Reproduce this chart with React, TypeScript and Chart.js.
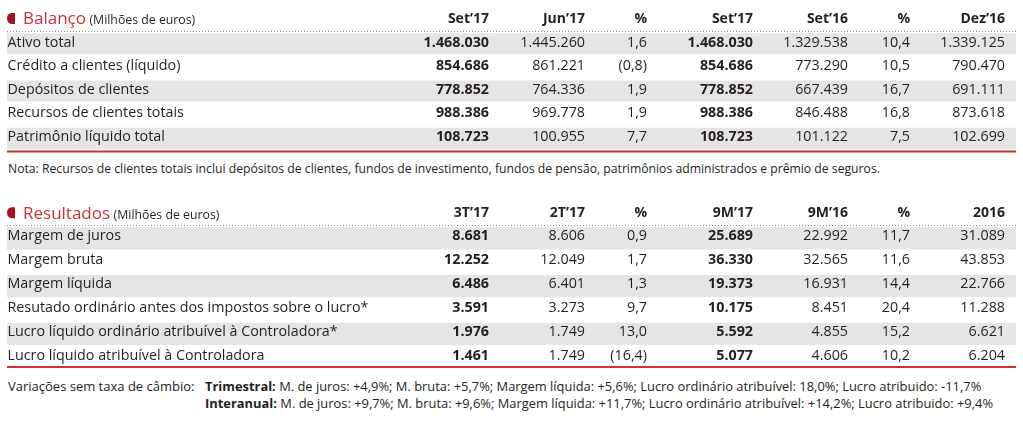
import React, { useEffect, useRef } from 'react';
import { Chart, registerables } from 'chart.js';

Chart.register(...registerables);

// ---------- DATA ----------
const balancoRows = [
  'Ativo total',
  'Crédito a clientes (líquido)',
  'Depósitos de clientes',
  'Recursos de clientes totais',
  'Patrimônio líquido total',
];
const balancoHeaders = ['Set’17', 'Jun’17', '%', 'Set’17', 'Set’16', '%', 'Dez’16'];
const balSet17 = [1468030, 854686, 778852, 988386, 108723];
const balJun17 = [1445260, 861221, 764336, 969778, 100955];
const balPctTri = [1.6, -0.8, 1.9, 1.9, 7.7];
const balSet16 = [1329538, 773290, 667439, 846488, 101122];
const balPctAno = [10.4, 10.5, 16.7, 16.8, 7.5];
const balDez16 = [1339125, 790470, 691111, 873618, 102699];

const resultadosRows = [
  'Margem de juros',
  'Margem bruta',
  'Margem líquida',
  'Resutado ordinário antes dos impostos sobre o lucro*',
  'Lucro líquido ordinário atribuível à Controladora*',
  'Lucro líquido atribuível à Controladora',
];
const resultadosHeaders = ['3T’17', '2T’17', '%', '9M’17', '9M’16', '%', '2016'];
const res3T17 = [8681, 12252, 6486, 3591, 1976, 1461];
const res2T17 = [8606, 12049, 6401, 3273, 1749, 1749];
const resPctTri = [0.9, 1.7, 1.3, 9.7, 13.0, -16.4];
const res9M17 = [25689, 36330, 19373, 10175, 5592, 5077];
const res9M16 = [22992, 32565, 16931, 8451, 4855, 4606];
const resPctAno = [11.7, 11.6, 14.4, 20.4, 15.2, 10.2];
const res2016 = [31089, 43853, 22766, 11288, 6621, 6204];

const notaText =
  'Nota: Recursos de clientes totais inclui depósitos de clientes, fundos de investimento, fundos de pensão, patrimônios administrados e prêmio de seguros.';
const variacoesLabel = 'Variações sem taxa de câmbio:';
const variacoesItems = ['M. de juros', 'M. bruta', 'Margem líquida', 'Lucro ordinário atribuível', 'Lucro atribuido'];
const trimestralValues = ['+4,9%', '+5,7%', '+5,6%', '18,0%', '-11,7%'];
const interanualValues = ['+9,7%', '+9,6%', '+11,7%', '+14,2%', '+9,4%'];

// ---------- STYLE / LAYOUT ----------
const FONT = '"Open Sans", "Noto Sans", sans-serif';
const TEXT = '#231f20';
const GRAY = '#e6e5e3';
const RED_TITLE = '#c9303a';
const RED_MARK = '#a8101c';
const RED_RULE = '#c6343a';
const DOT = '#8c8c8c';
const COL_RIGHT = [489, 585, 647, 753, 848, 910, 1005];
const ROW_SPAN: [number, number] = [7, 1016];
const LABEL_X = 7.5;

type Col = { values: number[]; kind: 'int' | 'pct'; bold: boolean };
interface TableSpec {
  title: string;
  unit: string;
  rows: string[];
  headers: string[];
  columns: Col[];
  padTop: number;
  padBottom: number;
  barPct: number;
  textDy: number;
  headDy: number;
  ruleDy: number;
}

function fmtInt(v: number) {
  return String(Math.round(v)).replace(/\B(?=(\d{3})+(?!\d))/g, '.');
}
function fmtPct(v: number) {
  const s = Math.abs(v).toFixed(1).replace('.', ',');
  return v < 0 ? `(${s})` : s;
}

const BALANCO: TableSpec = {
  title: 'Balanço',
  unit: '(Milhões de euros)',
  rows: balancoRows,
  headers: balancoHeaders,
  columns: [
    { values: balSet17, kind: 'int', bold: true },
    { values: balJun17, kind: 'int', bold: false },
    { values: balPctTri, kind: 'pct', bold: false },
    { values: balSet17, kind: 'int', bold: true },
    { values: balSet16, kind: 'int', bold: false },
    { values: balPctAno, kind: 'pct', bold: false },
    { values: balDez16, kind: 'int', bold: false },
  ],
  padTop: 8.3,
  padBottom: 9.9,
  barPct: 0.89,
  textDy: -1.3,
  headDy: -1.2,
  ruleDy: 1.5,
};

const RESULTADOS: TableSpec = {
  title: 'Resultados',
  unit: '(Milhões de euros)',
  rows: resultadosRows,
  headers: resultadosHeaders,
  columns: [
    { values: res3T17, kind: 'int', bold: true },
    { values: res2T17, kind: 'int', bold: false },
    { values: resPctTri, kind: 'pct', bold: false },
    { values: res9M17, kind: 'int', bold: true },
    { values: res9M16, kind: 'int', bold: false },
    { values: resPctAno, kind: 'pct', bold: false },
    { values: res2016, kind: 'int', bold: false },
  ],
  padTop: 12.5,
  padBottom: 5.4,
  barPct: 0.93,
  textDy: -2,
  headDy: -1.4,
  ruleDy: -2.6,
};

function tablePlugin(spec: TableSpec) {
  return {
    id: 'tableText',
    afterDraw(chart: any) {
      const { ctx, chartArea } = chart;
      const ys = chart.scales.y;
      const xs = chart.scales.x;
      const band = Math.abs(ys.getPixelForValue(1) - ys.getPixelForValue(0));
      const hc = ys.getPixelForValue(0);
      const x0 = xs.getPixelForValue(ROW_SPAN[0]);
      const x1 = xs.getPixelForValue(ROW_SPAN[1]);
      ctx.save();

      // title mark (half disc, flat right side)
      const cy = hc - 1.7;
      ctx.fillStyle = RED_MARK;
      ctx.beginPath();
      ctx.moveTo(15, cy - 5.5);
      ctx.lineTo(15, cy + 5.5);
      ctx.lineTo(11.5, cy + 5.5);
      ctx.ellipse(11.5, cy, 4.5, 5.5, 0, Math.PI / 2, (3 * Math.PI) / 2, false);
      ctx.closePath();
      ctx.fill();

      // title + unit
      ctx.textBaseline = 'alphabetic';
      ctx.textAlign = 'left';
      ctx.fillStyle = RED_TITLE;
      ctx.font = `400 17px ${FONT}`;
      const ty = hc + 4.2;
      ctx.fillText(spec.title, 23, ty);
      const tw = ctx.measureText(spec.title).width;
      ctx.fillStyle = TEXT;
      ctx.font = `400 12.3px ${FONT}`;
      ctx.fillText(spec.unit, 23 + tw + 3.5, ty);

      // headers
      ctx.textBaseline = 'middle';
      ctx.textAlign = 'right';
      ctx.font = `700 14px ${FONT}`;
      spec.headers.forEach((h, i) => {
        ctx.fillText(h, xs.getPixelForValue(COL_RIGHT[i]), hc + spec.headDy);
      });

      // dotted rule under header
      const dy = Math.round(hc + band / 2) - 0.5;
      ctx.strokeStyle = DOT;
      ctx.lineWidth = 1;
      ctx.setLineDash([1, 2]);
      ctx.beginPath();
      ctx.moveTo(x0, dy);
      ctx.lineTo(x1, dy);
      ctx.stroke();
      ctx.setLineDash([]);

      // rows
      spec.rows.forEach((label, r) => {
        const y = ys.getPixelForValue(r + 1) + spec.textDy;
        ctx.textAlign = 'left';
        ctx.font = `400 14.3px ${FONT}`;
        ctx.fillStyle = TEXT;
        ctx.fillText(label, xs.getPixelForValue(LABEL_X), y);
        ctx.textAlign = 'right';
        spec.columns.forEach((col, c) => {
          const v = col.values[r];
          ctx.font = `${col.bold ? 700 : 400} 14.3px ${FONT}`;
          ctx.fillText(col.kind === 'int' ? fmtInt(v) : fmtPct(v), xs.getPixelForValue(COL_RIGHT[c]), y);
        });
      });

      // red rule
      const ry = chartArea.bottom + spec.ruleDy;
      ctx.strokeStyle = RED_RULE;
      ctx.lineWidth = 2;
      ctx.beginPath();
      ctx.moveTo(x0, ry);
      ctx.lineTo(x1, ry);
      ctx.stroke();
      ctx.restore();
    },
  };
}

function makeTable(canvas: HTMLCanvasElement, spec: TableSpec) {
  const labels = ['', ...spec.rows];
  return new Chart(canvas, {
    type: 'bar',
    data: {
      labels,
      datasets: [
        {
          data: labels.map((_, i) => (i === 0 ? null : [ROW_SPAN[0], ROW_SPAN[1]])) as any,
          backgroundColor: labels.map((_, i) => (i % 2 === 1 ? GRAY : 'rgba(0,0,0,0)')),
          borderWidth: 0,
          barPercentage: spec.barPct,
          categoryPercentage: 1,
        },
      ],
    },
    options: {
      indexAxis: 'y',
      responsive: false,
      animation: false,
      devicePixelRatio: 1,
      events: [],
      layout: { padding: { top: spec.padTop, bottom: spec.padBottom, left: 0, right: 0 } },
      plugins: { legend: { display: false }, tooltip: { enabled: false }, title: { display: false } },
      scales: {
        x: { type: 'linear', min: 0, max: 1023, display: false },
        y: { type: 'category', offset: true, display: false },
      },
    },
    plugins: [tablePlugin(spec)],
  } as any);
}

export default function App() {
  const c1 = useRef<HTMLCanvasElement>(null);
  const c2 = useRef<HTMLCanvasElement>(null);
  useEffect(() => {
    const a = makeTable(c1.current!, BALANCO);
    const b = makeTable(c2.current!, RESULTADOS);
    return () => {
      a.destroy();
      b.destroy();
    };
  }, []);

  const line = (head: string, values: string[]) => (
    <div style={{ whiteSpace: 'nowrap' }}>
      <b style={{ fontWeight: 700 }}>{head}</b>{' '}
      {variacoesItems.map((it, i) => `${it}: ${values[i]}`).join('; ')}
    </div>
  );

  return (
    <div
      style={{
        position: 'relative',
        width: 1023,
        height: 427,
        overflow: 'hidden',
        background: '#fff',
        fontFamily: FONT,
        color: TEXT,
      }}
    >
      <style>{'body{margin:0}'}</style>
      <canvas ref={c1} width={1023} height={160} style={{ position: 'absolute', left: 0, top: 0 }} />
      <div
        style={{
          position: 'absolute',
          left: 8,
          top: 160.5,
          fontSize: 12.2,
          lineHeight: '16px',
          whiteSpace: 'nowrap',
        }}
      >
        {notaText}
      </div>
      <canvas ref={c2} width={1023} height={185} style={{ position: 'absolute', left: 0, top: 190 }} />
      <div
        style={{
          position: 'absolute',
          left: 8,
          top: 378.4,
          fontSize: 13,
          lineHeight: '16.6px',
          whiteSpace: 'nowrap',
        }}
      >
        {variacoesLabel}
      </div>
      <div
        style={{
          position: 'absolute',
          left: 205,
          top: 378.4,
          fontSize: 12.9,
          lineHeight: '16.6px',
        }}
      >
        {line('Trimestral:', trimestralValues)}
        {line('Interanual:', interanualValues)}
      </div>
    </div>
  );
}
